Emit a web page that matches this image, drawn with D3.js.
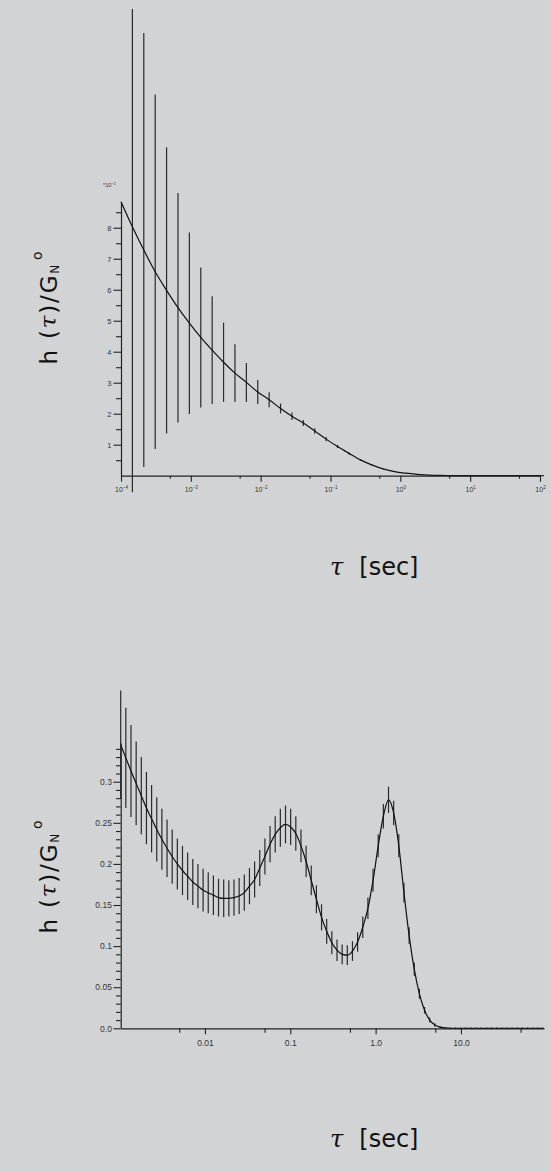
<!DOCTYPE html>
<html><head><meta charset="utf-8">
<script src="https://cdn.jsdelivr.net/npm/d3@7"></script>
<style>html,body{margin:0;padding:0;background:#d2d3d5;}svg{display:block;}</style>
</head><body>
<script>
// ---------- DATA: top chart (h(tau)/GN0, x10^-2) ----------
const topTau = [1.000e-4,1.456e-4,2.120e-4,3.087e-4,4.495e-4,6.546e-4,9.532e-4,1.388e-3,2.021e-3,2.943e-3,
  4.285e-3,6.240e-3,9.086e-3,1.323e-2,1.927e-2,2.805e-2,4.085e-2,5.948e-2,8.662e-2,0.1261,
  0.1837,0.2675,0.3895,0.5671,0.8258,1.202,1.751,2.549,3.712,5.405,
  7.870,11.46,16.69,24.30,35.38,51.52,75.02,100];
const topH = [8.84,8.03,7.28,6.58,5.98,5.42,4.92,4.46,4.05,3.66,
  3.31,3.01,2.70,2.45,2.17,1.92,1.70,1.44,1.18,0.94,
  0.72,0.51,0.35,0.22,0.13,0.08,0.045,0.02,0.01,0.005,
  0.002,0.001,0,0,0,0,0,0];
const topErr = [0,8.56,7.0,5.72,4.62,3.70,2.93,2.26,1.74,1.28,
  0.93,0.63,0.39,0.24,0.16,0.12,0.10,0.09,0.07,0.05,
  0.04,0.03,0.02,0.015,0.01,0.01,0.008,0.006,0.005,0.004,
  0.003,0.002,0.002,0.002,0.002,0.002,0.002,0];
const topXTicks = [1e-4,1e-3,1e-2,1e-1,1e0,1e1,1e2];
const topXExp = ["-4","-3","-2","-1","0","1","2"];
const topXMinor = [5e-4,5e-3,5e-2,5e-1,5,50];
const topYTicks = [1,2,3,4,5,6,7,8];
const topYMinor = [0.5,1.5,2.5,3.5,4.5,5.5,6.5,7.5,8.5];

// ---------- DATA: bottom chart ----------
const botTau = [0.001030,0.001183,0.001360,0.001563,0.001796,0.002063,0.002371,0.002724,0.003130,0.003597,
  0.004133,0.004749,0.005457,0.006270,0.007205,0.008279,0.009516,0.01093,0.01256,0.01443,
  0.01659,0.01906,0.02190,0.02517,0.02892,0.03323,0.03819,0.04388,0.05042,0.05794,
  0.06657,0.07650,0.08790,0.1010,0.1161,0.1334,0.1533,0.1761,0.2024,0.2325,
  0.2672,0.3070,0.3528,0.4054,0.4658,0.5353,0.6151,0.7068,0.8121,0.9332,
  1.0723,1.2322,1.4159,1.6270,1.8696,2.1483,2.4686,2.8366,3.2596,3.7455,
  4.3040,4.9456,5.6830,6.5302,7.5038,8.6225,9.9070,11.384,13.081,15.032,
  17.273,19.848,22.807,26.207,30.114,34.604,39.762,45.690,52.502,60.329,
  69.322,79.657,91.533];
const botH = [0.345,0.329,0.313,0.298,0.283,0.268,0.255,0.242,0.230,0.219,
  0.209,0.200,0.192,0.185,0.178,0.173,0.168,0.165,0.162,0.159,
  0.158,0.158,0.159,0.161,0.165,0.173,0.181,0.195,0.209,0.224,
  0.236,0.244,0.248,0.245,0.237,0.222,0.203,0.180,0.157,0.135,
  0.118,0.104,0.095,0.090,0.089,0.094,0.105,0.123,0.146,0.180,
  0.222,0.258,0.278,0.262,0.222,0.165,0.113,0.072,0.042,0.022,
  0.010,0.004,0.0015,0.0005,0,0,0,0,0,0,
  0,0,0,0,0,0,0,0,0,0,
  0,0,0];
const botErr = [0.066,0.061,0.056,0.051,0.047,0.044,0.041,0.039,0.037,0.035,
  0.033,0.031,0.030,0.029,0.028,0.027,0.026,0.025,0.024,0.023,
  0.023,0.022,0.022,0.022,0.022,0.022,0.022,0.022,0.022,0.022,
  0.022,0.023,0.023,0.022,0.021,0.020,0.019,0.018,0.017,0.016,
  0.015,0.014,0.013,0.012,0.012,0.012,0.012,0.013,0.013,0.014,
  0.014,0.015,0.016,0.015,0.014,0.012,0.010,0.008,0.006,0.004,
  0.003,0.002,0.001,0.001,0.001,0.001,0.001,0.001,0.001,0.001,
  0.001,0.001,0.001,0.001,0.001,0.001,0.001,0.001,0.001,0.001,
  0.001,0.001,0.001];
const botXTicks = [0.01,0.1,1,10];
const botXLabels = ["0.01","0.1","1.0","10.0"];
const botXMinor = [0.005,0.05,0.5,5,50];
const botYTicks = [0,0.05,0.1,0.15,0.2,0.25,0.3];
const botYLabels = ["0.0","0.05","0.1","0.15","0.2","0.25","0.3"];
const botYMinor = [0.01,0.02,0.03,0.04,0.06,0.07,0.08,0.09,0.11,0.12,0.13,0.14,0.16,0.17,0.18,0.19,
  0.21,0.22,0.23,0.24,0.26,0.27,0.28,0.29,0.31,0.32,0.33,0.34];

// ---------- DRAW ----------
const W = 551, H = 1172;
const svg = d3.select("body").append("svg").attr("width", W).attr("height", H);
svg.append("rect").attr("width", W).attr("height", H).attr("fill", "#d2d3d5");
const FONT = "Liberation Sans, Arial, sans-serif";
const TFONT = "DejaVu Sans, sans-serif";
const TXT = "#333";

function styleAxis(g){
  g.selectAll("path.domain").attr("stroke","#222").attr("stroke-width",1.2);
  g.selectAll(".tick line").attr("stroke","#222").attr("stroke-width",1.1);
  g.selectAll("text").attr("fill",TXT).attr("font-family",FONT);
}

function yLabel(cx, cy){
  const t = svg.append("text")
    .attr("transform", `translate(${cx},${cy}) rotate(-90)`)
    .attr("text-anchor","middle").attr("dominant-baseline","middle")
    .attr("font-family", TFONT).attr("font-size", 23).attr("letter-spacing", 1.8).attr("fill","#111");
  t.append("tspan").text("h (");
  t.append("tspan").attr("font-style","italic").attr("font-family","DejaVu Serif, serif").text("τ");
  t.append("tspan").text(")/G");
  t.append("tspan").attr("font-size",12).attr("dy",5).text("N");
  t.append("tspan").attr("font-size",14).attr("dy",-17).attr("dx",3).text("o");
}
function xLabel(x, y){
  const t = svg.append("text").attr("x",x).attr("y",y)
    .attr("font-family", TFONT).attr("font-size", 24).attr("fill","#111");
  t.append("tspan").attr("font-style","italic").attr("font-family","DejaVu Serif, serif").text("τ");
  t.append("tspan").attr("dx",16).text("[sec]");
}

// ===== Top chart =====
{
  const x = d3.scaleLog().domain([1e-4, 1e2]).range([121, 540]);
  const y = d3.scaleLinear().domain([0, 8.84]).range([475.7, 201.7]);

  const clipId = "clipTop";
  svg.append("clipPath").attr("id", clipId).append("rect")
    .attr("x", 0).attr("y", 9).attr("width", W).attr("height", 500);

  svg.append("g").attr("clip-path", `url(#${clipId})`)
    .selectAll("line").data(topTau.map((t,i)=>({t, v: topH[i], e: topErr[i]})).filter(d=>d.e>0))
    .join("line")
    .attr("x1", d=>x(d.t)).attr("x2", d=>x(d.t))
    .attr("y1", d=>y(d.v - d.e)).attr("y2", d=>y(d.v + d.e))
    .attr("stroke", "#2a2a2a").attr("stroke-width", 1.2);

  svg.append("path").datum(topTau.map((t,i)=>[t, topH[i]]))
    .attr("d", d3.line().x(d=>x(d[0])).y(d=>y(d[1])).curve(d3.curveMonotoneX))
    .attr("fill","none").attr("stroke","#111").attr("stroke-width",1.2);

  const gx = svg.append("g").attr("transform", `translate(0,${y(0)})`)
    .call(d3.axisBottom(x).tickValues(topXTicks).tickSize(6).tickSizeOuter(0).tickPadding(5).tickFormat(()=>""));
  gx.selectAll(".tick text").each(function(d,i){
    const t = d3.select(this);
    t.text(null).attr("font-size",7);
    t.append("tspan").text("10");
    t.append("tspan").attr("font-size",4.5).attr("dy",-2.5).text(topXExp[i].replace("-","−"));
  });
  styleAxis(gx);
  svg.append("g").attr("transform", `translate(0,${y(0)})`)
    .call(d3.axisBottom(x).tickValues(topXMinor).tickSize(3).tickFormat(()=>""))
    .call(g=>g.select(".domain").remove()).call(styleAxis);
  svg.append("line").attr("x1", x(1e2)).attr("x2", x(1e2)+4).attr("y1", y(0)).attr("y2", y(0))
    .attr("stroke","#222").attr("stroke-width",1.2);

  const gy = svg.append("g").attr("transform", `translate(${x(1e-4)},0)`)
    .call(d3.axisLeft(y).tickValues(topYTicks).tickSize(7.5).tickSizeOuter(0).tickPadding(2).tickFormat(d3.format("d")));
  gy.selectAll("text").attr("font-size",7.5);
  styleAxis(gy);
  svg.append("g").attr("transform", `translate(${x(1e-4)},0)`)
    .call(d3.axisLeft(y).tickValues(topYMinor).tickSize(5).tickFormat(()=>""))
    .call(g=>g.select(".domain").remove()).call(styleAxis);

  const m = svg.append("text").attr("x", 103).attr("y", 187)
    .attr("font-family",FONT).attr("font-size",5.5).attr("fill",TXT);
  m.append("tspan").text("*10");
  m.append("tspan").attr("font-size",4).attr("dy",-2).text("−2");

  yLabel(50, 307);
  xLabel(330, 575);
}

// ===== Bottom chart =====
{
  const x = d3.scaleLog().domain([0.00103, 94]).range([120.7, 544]);
  const y = d3.scaleLinear().domain([0, 0.347]).range([1028.3, 743.1]);

  svg.append("g")
    .selectAll("line").data(botTau.map((t,i)=>({t, v: botH[i], e: botErr[i]})).filter(d=>d.e>0))
    .join("line")
    .attr("x1", d=>x(d.t)).attr("x2", d=>x(d.t))
    .attr("y1", d=>y(d.v - d.e)).attr("y2", d=>y(d.v + d.e))
    .attr("stroke", "#2a2a2a").attr("stroke-width", 1.2);

  svg.append("path").datum(botTau.map((t,i)=>[t, botH[i]]))
    .attr("d", d3.line().x(d=>x(d[0])).y(d=>y(d[1])).curve(d3.curveMonotoneX))
    .attr("fill","none").attr("stroke","#111").attr("stroke-width",1.2);

  const gx = svg.append("g").attr("transform", `translate(0,${y(0)})`)
    .call(d3.axisBottom(x).tickValues(botXTicks).tickSize(6).tickSizeOuter(0).tickPadding(6).tickFormat((d,i)=>botXLabels[i]));
  gx.selectAll("text").attr("font-size",8.5);
  styleAxis(gx);
  svg.append("g").attr("transform", `translate(0,${y(0)})`)
    .call(d3.axisBottom(x).tickValues(botXMinor).tickSize(4.5).tickFormat(()=>""))
    .call(g=>g.select(".domain").remove()).call(styleAxis);

  const gy = svg.append("g").attr("transform", `translate(${x(0.00103)},0)`)
    .call(d3.axisLeft(y).tickValues(botYTicks).tickSize(7.3).tickSizeOuter(0).tickPadding(1.5).tickFormat((d,i)=>botYLabels[i]));
  gy.selectAll("text").attr("font-size",8.5);
  styleAxis(gy);
  svg.append("g").attr("transform", `translate(${x(0.00103)},0)`)
    .call(d3.axisLeft(y).tickValues(botYMinor).tickSize(4.7).tickFormat(()=>""))
    .call(g=>g.select(".domain").remove()).call(styleAxis);

  yLabel(50, 876);
  xLabel(330, 1147);
}
</script>
</body></html>
